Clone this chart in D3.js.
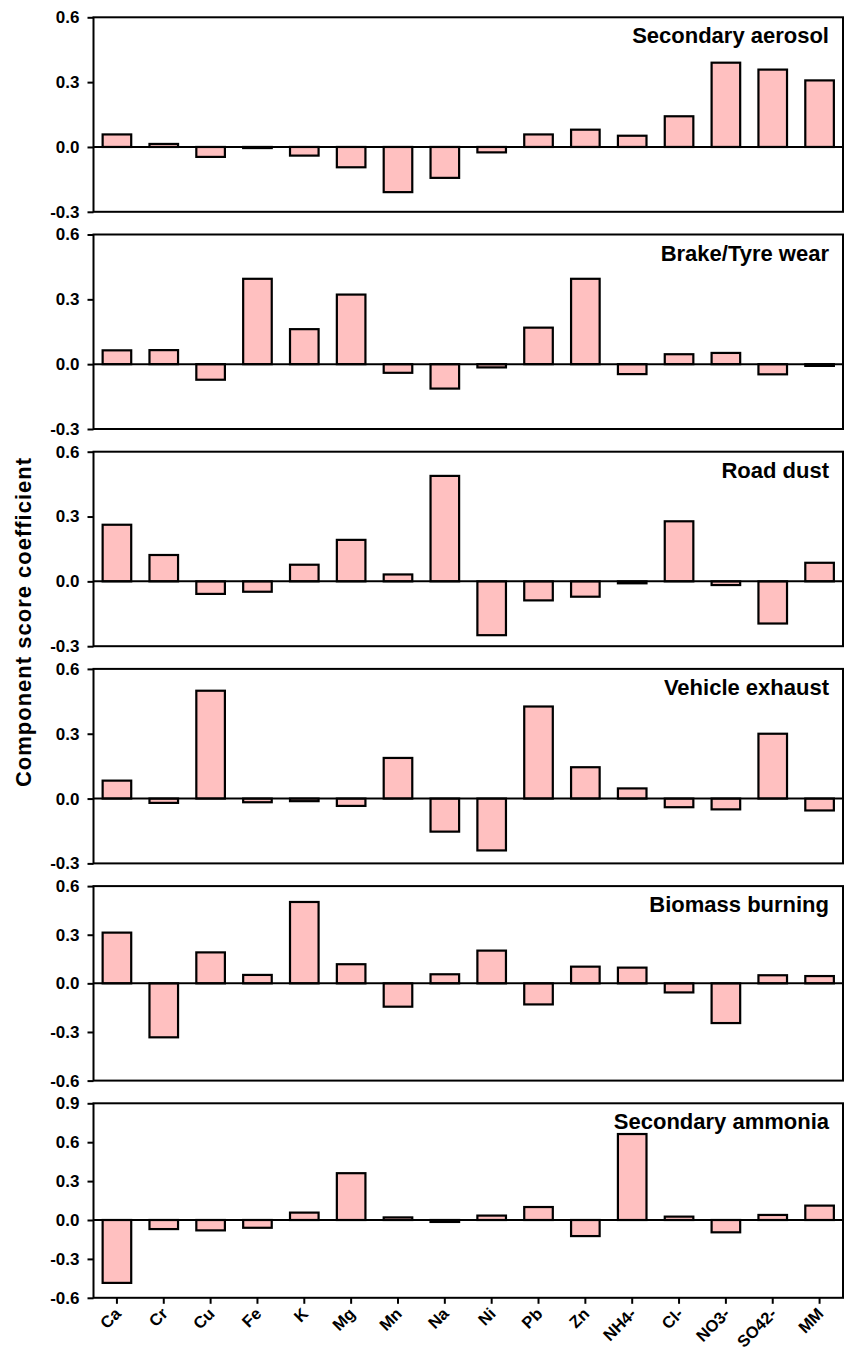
<!DOCTYPE html>
<html>
<head>
<meta charset="utf-8">
<script src="https://cdn.jsdelivr.net/npm/d3@7"></script>
<style>
  body { margin: 0; background: #fff; }
  svg text { font-family: "Liberation Sans", Arial, sans-serif; font-weight: bold; }
</style>
</head>
<body>
<div id="chart"></div>
<script>
// categories (species)
const species = ['Ca', 'Cr', 'Cu', 'Fe', 'K', 'Mg', 'Mn', 'Na', 'Ni', 'Pb', 'Zn', 'NH4-', 'Cl-', 'NO3-', 'SO42-', 'MM'];

// component names, top to bottom
const components = ['Secondary aerosol', 'Brake/Tyre wear', 'Road dust', 'Vehicle exhaust', 'Biomass burning', 'Secondary ammonia'];

// score coefficients
const secondaryAerosol = [0.058, 0.014, -0.046, -0.005, -0.040, -0.094, -0.209, -0.143, -0.025, 0.058, 0.080, 0.052, 0.142, 0.390, 0.358, 0.308];
const brakeTyre = [0.064, 0.065, -0.072, 0.395, 0.162, 0.322, -0.040, -0.113, -0.015, 0.169, 0.395, -0.046, 0.046, 0.052, -0.047, -0.008];
const roadDust = [0.262, 0.122, -0.058, -0.048, 0.077, 0.192, 0.032, 0.488, -0.249, -0.088, -0.071, -0.009, 0.278, -0.017, -0.195, 0.086];
const vehicleExhaust = [0.083, -0.020, 0.499, -0.017, -0.012, -0.034, 0.188, -0.153, -0.240, 0.426, 0.145, 0.047, -0.040, -0.050, 0.300, -0.055];
const biomassBurning = [0.313, -0.333, 0.191, 0.052, 0.502, 0.118, -0.144, 0.056, 0.202, -0.130, 0.103, 0.097, -0.056, -0.245, 0.050, 0.045];
const secondaryAmmonia = [-0.485, -0.070, -0.080, -0.060, 0.057, 0.361, 0.020, -0.015, 0.034, 0.100, -0.124, 0.663, 0.026, -0.095, 0.039, 0.111];

// y axis ranges and ticks per panel
const yDomains = [[-0.3, 0.6], [-0.3, 0.6], [-0.3, 0.6], [-0.3, 0.6], [-0.6, 0.6], [-0.6, 0.9]];
const yTicks = [
    [-0.3, 0.0, 0.3, 0.6],
    [-0.3, 0.0, 0.3, 0.6],
    [-0.3, 0.0, 0.3, 0.6],
    [-0.3, 0.0, 0.3, 0.6],
    [-0.6, -0.3, 0.0, 0.3, 0.6],
    [-0.6, -0.3, 0.0, 0.3, 0.6, 0.9]
];

const series = [secondaryAerosol, brakeTyre, roadDust, vehicleExhaust, biomassBurning, secondaryAmmonia];

const W = 845, H = 1353;
const left = 93.5, right = 843;
const top0 = 17.3, panelH = 194.5, step = 217.2;

const svg = d3.select('#chart').append('svg')
    .attr('width', W)
    .attr('height', H);

const x = d3.scaleBand()
    .domain(species)
    .range([left, right])
    .paddingInner(0.39)
    .paddingOuter(0.195);

components.forEach((name, i) => {
    const top = top0 + i * step;
    const y = d3.scaleLinear().domain(yDomains[i]).range([top + panelH, top]);
    const g = svg.append('g').attr('class', 'panel');
    const vals = series[i];

    // bars
    g.selectAll('.bar')
        .data(vals).enter()
        .append('rect')
        .attr('class', 'bar')
        .attr('x', (d, j) => x(species[j]))
        .attr('width', x.bandwidth())
        .attr('y', d => y(Math.max(0, d)))
        .attr('height', d => Math.abs(y(d) - y(0)))
        .style('fill', '#ffc0c0')
        .style('stroke', '#000')
        .style('stroke-width', 2.2);

    // zero line
    g.append('line')
        .attr('x1', left).attr('x2', right)
        .attr('y1', y(0)).attr('y2', y(0))
        .style('stroke', '#000')
        .style('stroke-width', 2);

    // frame
    g.append('rect')
        .attr('x', left).attr('y', top)
        .attr('width', right - left).attr('height', panelH)
        .style('fill', 'none')
        .style('stroke', '#000')
        .style('stroke-width', 2);

    // y axis
    const yAxis = d3.axisLeft(y)
        .tickValues(yTicks[i])
        .tickFormat(d3.format('.1f'))
        .tickSize(6)
        .tickPadding(8);
    const ax = g.append('g')
        .attr('transform', 'translate(' + left + ',0)')
        .call(yAxis);
    ax.select('.domain').remove();
    ax.selectAll('line').style('stroke', '#000').style('stroke-width', 2);
    ax.selectAll('text')
        .style('font-size', '17px')
        .style('fill', '#000')
        .text(d => d3.format('.1f')(d).replace('−', '-'));

    // panel title
    g.append('text')
        .attr('x', 829)
        .attr('y', top + 26)
        .attr('text-anchor', 'end')
        .style('font-size', '22px')
        .style('fill', '#000')
        .text(name);

    // x axis on the bottom panel only
    if (i === components.length - 1) {
        const xAxis = d3.axisBottom(x).tickSize(6).tickPadding(4);
        const bx = g.append('g')
            .attr('transform', 'translate(0,' + (top + panelH) + ')')
            .call(xAxis);
        bx.select('.domain').remove();
        bx.selectAll('line').style('stroke', '#000').style('stroke-width', 2);
        bx.selectAll('text')
            .style('font-size', '16.5px')
            .style('fill', '#000')
            .attr('text-anchor', 'end')
            .attr('dy', null)
            .attr('transform', 'translate(5,17) rotate(-45)')
            .attr('y', 0)
            .attr('x', 0);
    }
});

// shared y axis title
svg.append('text')
    .attr('transform', 'translate(31,622) rotate(-90)')
    .attr('text-anchor', 'middle')
    .style('font-size', '22px')
    .style('letter-spacing', '1px')
    .style('fill', '#000')
    .text('Component score coefficient');
</script>
</body>
</html>
